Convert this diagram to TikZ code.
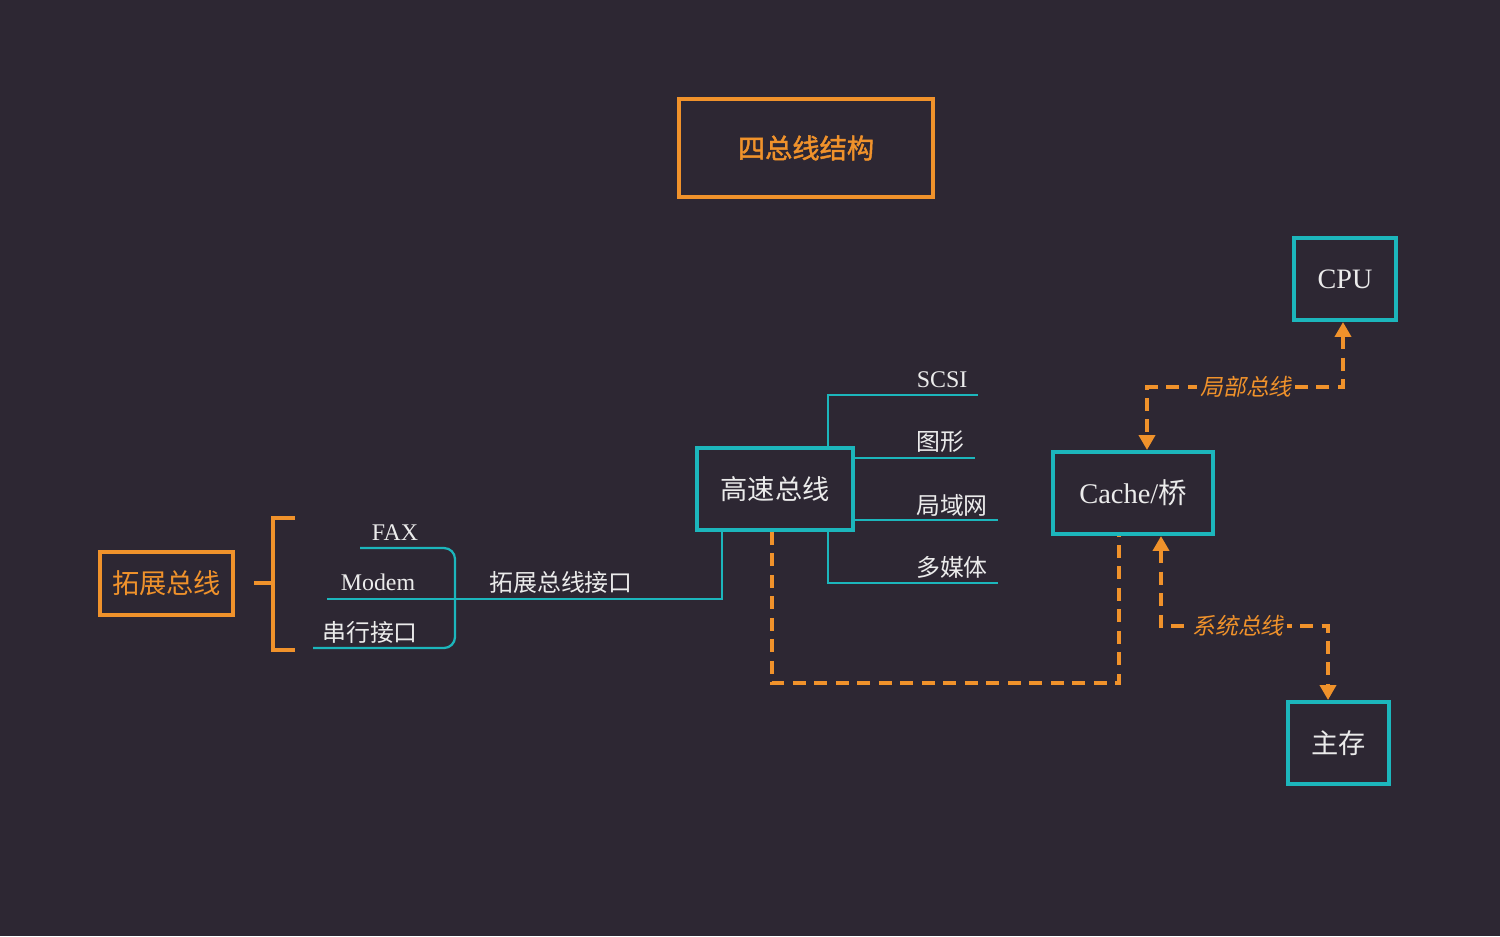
\documentclass[tikz,border=0pt]{standalone}
\usepackage{fontspec}
\setmainfont{Liberation Serif}
\newfontfamily\cjk{Noto Sans CJK SC}
\newfontfamily\cjkb{Noto Sans CJK SC}[FakeBold=1.6]
\newfontfamily\cjkit{Noto Sans CJK SC}[FakeSlant=0.2]
\usetikzlibrary{arrows.meta}
\definecolor{bg}{RGB}{45,39,51}
\definecolor{org}{RGB}{240,146,43}
\definecolor{tl}{RGB}{28,182,188}
\definecolor{txt}{RGB}{235,235,235}
\begin{document}
\begin{tikzpicture}[x=0.02cm,y=-0.02cm,
  tbox/.style={draw=tl,line width=0.08cm,text=txt,inner sep=0pt,fill=bg},
  obox/.style={draw=org,line width=0.07cm,text=org,inner sep=0pt,fill=bg},
  tline/.style={draw=tl,line width=0.045cm},
  oline/.style={draw=org,line width=0.07cm},
  bus/.style={draw=org,line width=0.075cm,dash pattern=on 0.26cm off 0.17cm},
  lbl/.style={text=txt,inner sep=0pt},
  buslbl/.style={fill=bg,text=org,inner xsep=2pt,inner ysep=0pt,font=\cjkit\fontsize{13pt}{15pt}\selectfont},
  tipboth/.style={{Triangle[width=0.32cm,length=0.3cm]}-{Triangle[width=0.32cm,length=0.3cm]}},
  fs/.style={font=\fontsize{#1}{#1}\selectfont}
]
\fill[bg] (0,0) rectangle (1500,936);
\useasboundingbox (0,0) rectangle (1500,936);

% boxes
\node[obox,minimum width=5.08cm,minimum height=1.96cm,font=\cjkb\fontsize{15.5pt}{17pt}\selectfont] (title) at (806,148) {四总线结构};
\node[obox,minimum width=2.66cm,minimum height=1.26cm,font=\cjk\fontsize{15.5pt}{17pt}\selectfont] (ext) at (166.5,583.5) {拓展总线};
\node[tbox,minimum width=3.12cm,minimum height=1.64cm,font=\cjk\fontsize{15.5pt}{17pt}\selectfont] (hs) at (775,489) {高速总线};
\node[tbox,minimum width=3.2cm,minimum height=1.64cm,fs=16.2pt] (cache) at (1133,493) {Cache/{\cjk 桥}};
\node[tbox,minimum width=2.04cm,minimum height=1.64cm,fs=16pt] (cpu) at (1345,279) {CPU};
\node[tbox,minimum width=2.02cm,minimum height=1.64cm,font=\cjk\fontsize{15.5pt}{17pt}\selectfont] (mem) at (1338.5,743) {主存};

% coordinates
\coordinate (bL) at (254,583);
\coordinate (bM) at (273,583);
\coordinate (bT) at (273,518);
\coordinate (bB) at (273,650);
\coordinate (bT2) at (295,518);
\coordinate (bB2) at (295,650);
\coordinate (fS) at (360,548);
\coordinate (fC) at (455,548);
\coordinate (sC) at (455,648);
\coordinate (sS) at (313,648);
\coordinate (mS) at (327,599);
\coordinate (iC) at (722,599);
\coordinate (scC) at (828,395);
\coordinate (scE) at (978,395);
\coordinate (gE) at (975,458);
\coordinate (lE) at (998,520);
\coordinate (mC) at (828,583);
\coordinate (mE) at (998,583);
\coordinate (lbA) at (1343,387);
\coordinate (lbB) at (1147,387);
\coordinate (sb1) at (1161,626);
\coordinate (sb2) at (1328,626);
\coordinate (hb1) at (772,683);
\coordinate (hb2) at (1119,683);

% bracket
\draw[oline] (bL) -- (bM);
\draw[oline] (bT2) -- (bT) -- (bB) -- (bB2);

% teal lines
\draw[tline,rounded corners=0.22cm] (fS) -- (fC) -- (sC) -- (sS);
\draw[tline] (mS) -- (iC) -- (iC |- hs.south);
\draw[tline] (scC |- hs.north) -- (scC) -- (scE);
\draw[tline] (hs.east |- gE) -- (gE);
\draw[tline] (hs.east |- lE) -- (lE);
\draw[tline] (mC |- hs.south) -- (mC) -- (mE);

% orange buses
\draw[bus,tipboth] (cpu.south -| lbA) -- (lbA) -- (lbB) -- (lbB |- cache.north);
\draw[bus,tipboth] (sb1 |- cache.south) -- (sb1) -- (sb2) -- (sb2 |- mem.north);
\draw[bus] (hb1 |- hs.south) -- (hb1) -- (hb2) -- (hb2 |- cache.south);

\node[buslbl] (lbt) at (1246,387) {局部总线};
\node[buslbl] (sbt) at (1238,626) {系统总线};

% labels
\node[lbl,fs=13.6pt,anchor=base] (fax) at (395,540) {FAX};
\node[lbl,fs=13.6pt,anchor=base] (modem) at (378,590) {Modem};
\node[lbl,font=\cjk\fontsize{13.6pt}{15pt}\selectfont] (ser) at (370,632) {串行接口};
\node[lbl,font=\cjk\fontsize{13.6pt}{15pt}\selectfont] (iface) at (561,582) {拓展总线接口};
\node[lbl,fs=13.6pt,anchor=base] (scsi) at (942,387) {SCSI};
\node[lbl,font=\cjk\fontsize{13.6pt}{15pt}\selectfont] (gfx) at (940,442) {图形};
\node[lbl,font=\cjk\fontsize{13.6pt}{15pt}\selectfont] (lan) at (952,505) {局域网};
\node[lbl,font=\cjk\fontsize{13.6pt}{15pt}\selectfont] (mm) at (952,567) {多媒体};
\end{tikzpicture}
\end{document}
